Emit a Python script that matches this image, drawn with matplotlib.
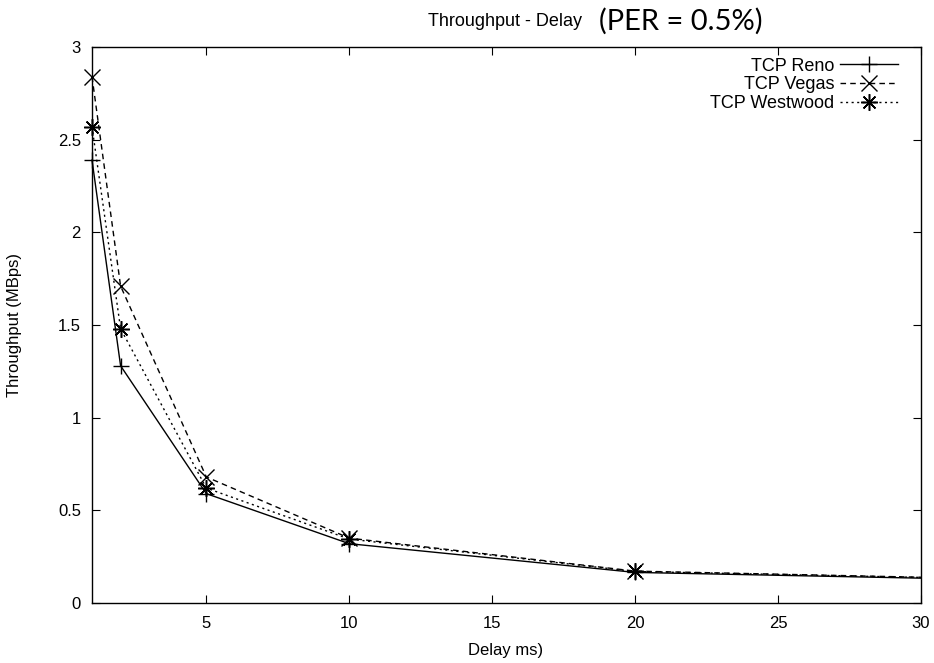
import matplotlib
matplotlib.use('Agg')
import matplotlib.pyplot as plt

# delay (ms) vs throughput (MBps), PER = 0.5%
delay = [1, 2, 5, 10, 20, 30]
reno = [2.39, 1.28, 0.59, 0.32, 0.165, 0.134]
vegas = [2.84, 1.71, 0.68, 0.35, 0.172, 0.139]
westwood = [2.57, 1.48, 0.62, 0.345, 0.17, 0.138]

x_ticks = [5, 10, 15, 20, 25, 30]
y_ticks = [0, 0.5, 1, 1.5, 2, 2.5, 3]
y_labels = ['0', '0.5', '1', '1.5', '2', '2.5', '3']

plt.rcParams['font.family'] = ['Liberation Sans', 'DejaVu Sans']

W, H = 934, 663
fig = plt.figure(figsize=(W / 100, H / 100), dpi=100)
ax = fig.add_axes([92 / W, 1 - 603 / H, (921 - 92) / W, (603 - 47) / H])

star = (8, 2, 0)
mk = slice(0, 5)
ax.plot(delay, reno, color='black', lw=1.0, ls='-', marker='+', ms=12, mew=1.0,
        markevery=mk, clip_on=False, label='TCP Reno')
ax.plot(delay, vegas, color='black', lw=1.0, ls=(0, (4, 3)), marker='x', ms=11, mew=1.0,
        markevery=mk, clip_on=False, label='TCP Vegas')
ax.plot(delay, westwood, color='black', lw=1.0, ls=(0, (1.5, 2.5)), marker=star, ms=12, mew=1.1,
        markevery=mk, clip_on=False, label='TCP Westwood')

ax.set_xlim(1, 30)
ax.set_ylim(0, 3)
ax.set_xticks(x_ticks)
ax.set_yticks(y_ticks)
ax.set_yticklabels(y_labels)
ax.tick_params(direction='in', length=5.5, width=0.8, top=True, right=True,
               labelsize=12, colors='black')
ax.tick_params(axis='x', pad=9)
ax.tick_params(axis='y', pad=8)
for sp in ax.spines.values():
    sp.set_linewidth(1.0)

leg = ax.legend(loc='upper right', bbox_to_anchor=(0.972, 0.981), frameon=False,
                markerfirst=False, fontsize=13, handlelength=3.2, handletextpad=0.3,
                borderpad=0, borderaxespad=0, labelspacing=0.1)

fig.text(15 / W, 1 - 325 / H, 'Throughput (MBps)', rotation=90, ha='center', va='center',
         fontsize=12)
fig.text(506 / W, 1 - 650 / H, 'Delay ms)', ha='center', va='center', fontsize=12)

fig.text(428 / W, 1 - 26 / H, 'Throughput - Delay', ha='left', va='baseline', fontsize=13)
fig.text(599 / W, 1 - 30 / H, '(PER = 0.5%)', ha='left', va='baseline', fontsize=21,
         family=['Lato', 'DejaVu Sans'])

fig.savefig('out.png', dpi=100, facecolor='white')
